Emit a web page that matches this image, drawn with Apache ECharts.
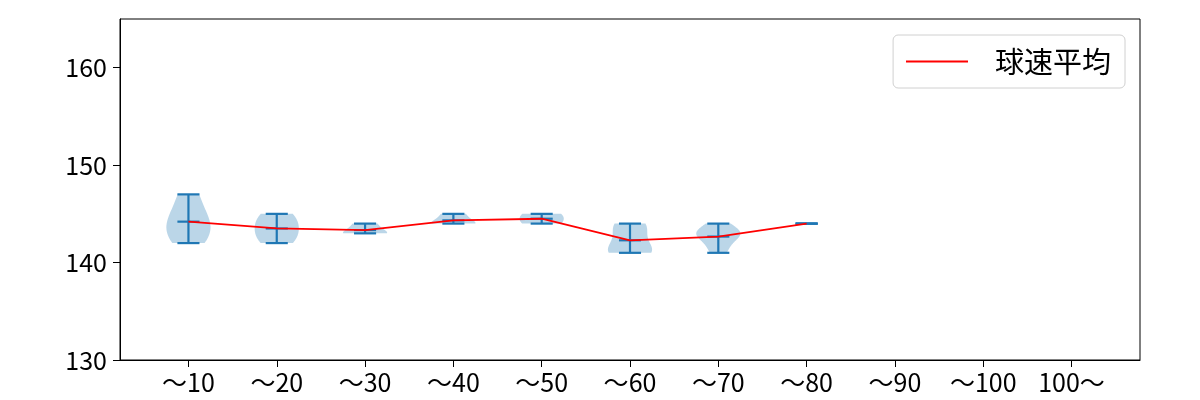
<!DOCTYPE html>
<html>
<head>
<meta charset="utf-8">
<script src="https://cdn.jsdelivr.net/npm/echarts@6/dist/echarts.min.js"></script>
<style>
html,body{margin:0;padding:0;background:#fff;}
#chart{width:1200px;height:400px;}
</style>
</head>
<body>
<div id="chart"></div>
<script>
// Categories (x axis tick labels)
const categories = ['〜10', '〜20', '〜30', '〜40', '〜50', '〜60', '〜70', '〜80', '〜90', '〜100', '100〜'];
// Pitch speed samples (km/h) per category, estimated from the violins
const speedSamples = [
  [142, 143, 144, 145, 147],
  [142, 143, 144, 145],
  [143, 143, 144],
  [144, 144, 145],
  [144, 145],
  [141, 141, 141, 142, 143, 144, 144],
  [141, 142, 143, 143, 144, 143],
  [144],
  [],
  [],
  []
];
// Y axis ticks
const yTicks = [130, 140, 150, 160];
const seriesName = '球速平均';

const FONT = '"Noto Sans CJK JP", "Noto Sans", sans-serif';
const BLUE = '#1f77b4';

function mean(a) { return a.reduce((s, v) => s + v, 0) / a.length; }
function kdeProfile(a) {
  const n = a.length;
  const m = mean(a);
  const variance = a.reduce((s, v) => s + (v - m) * (v - m), 0) / (n - 1);
  const sigma = Math.sqrt(variance) * Math.pow(n, -0.2);
  const lo = Math.min(...a), hi = Math.max(...a);
  const pts = [];
  for (let i = 0; i < 100; i++) {
    const y = lo + (hi - lo) * i / 99;
    let d = 0;
    for (const v of a) { const z = (y - v) / sigma; d += Math.exp(-0.5 * z * z); }
    pts.push([y, d]);
  }
  const mx = Math.max(...pts.map(p => p[1]));
  return pts.map(p => [p[0], 0.25 * p[1] / mx]);
}

const positions = categories.map((c, i) => i + 1);
const meanLine = [];
speedSamples.forEach((s, i) => { if (s.length) meanLine.push([positions[i], mean(s)]); });

const chart = echarts.init(document.getElementById('chart'), null, { renderer: 'canvas' });

const option = {
  animation: false,
  backgroundColor: '#fff',
  grid: { left: 120, right: 60, top: 19, bottom: 40, show: true, borderColor: '#000', borderWidth: 1, backgroundColor: 'transparent' },
  xAxis: {
    type: 'value', min: 0.225, max: 11.775,
    splitLine: { show: false },
    axisLine: { show: true, lineStyle: { color: '#000', width: 1 } },
    axisTick: { show: true, length: 7, lineStyle: { color: '#000' }, customValues: positions },
    axisLabel: { customValues: positions, formatter: v => categories[Math.round(v) - 1], color: '#000', fontSize: 25, fontFamily: FONT, margin: 10 }
  },
  yAxis: {
    type: 'value', min: 130, max: 165,
    splitLine: { show: false },
    axisLine: { show: true, lineStyle: { color: '#000', width: 1 } },
    axisTick: { show: true, length: 7, lineStyle: { color: '#000' }, customValues: yTicks },
    axisLabel: { customValues: yTicks, color: '#000', fontSize: 25, fontFamily: FONT, margin: 13 }
  },
  legend: {
    data: [seriesName],
    right: 75, top: 35,
    orient: 'vertical',
    backgroundColor: 'rgba(255,255,255,0.8)',
    borderColor: '#d0d0d0', borderWidth: 1, borderRadius: 5,
    padding: [12, 14, 12, 12],
    itemWidth: 62, itemHeight: 14,
    itemStyle: { opacity: 0 },
    lineStyle: { color: '#ff0000', width: 1.8, opacity: 1 },
    textStyle: { fontSize: 29, fontFamily: FONT, color: '#000', padding: [0, 0, 0, 22] }
  },
  series: [
    {
      type: 'custom',
      name: 'violin',
      data: positions.map(p => [p]),
      encode: { x: 0 },
      z: 2,
      renderItem: function (params, api) {
        const i = params.dataIndex;
        const s = speedSamples[i];
        if (!s.length) return null;
        const pos = positions[i];
        const children = [];
        const lo = Math.min(...s), hi = Math.max(...s), mu = mean(s);
        if (hi > lo) {
          const prof = kdeProfile(s);
          const pts = [];
          prof.forEach(p => pts.push(api.coord([pos - p[1], p[0]])));
          for (let k = prof.length - 1; k >= 0; k--) pts.push(api.coord([pos + prof[k][1], prof[k][0]]));
          children.push({ type: 'polygon', shape: { points: pts }, style: { fill: 'rgba(31,119,180,0.3)', stroke: 'none' } });
        }
        const seg = (x1, y1, x2, y2) => {
          const a = api.coord([x1, y1]), b = api.coord([x2, y2]);
          return { type: 'line', shape: { x1: a[0], y1: a[1], x2: b[0], y2: b[1] }, style: { stroke: BLUE, lineWidth: 2.2 } };
        };
        children.push(seg(pos, lo, pos, hi));
        children.push(seg(pos - 0.125, lo, pos + 0.125, lo));
        children.push(seg(pos - 0.125, hi, pos + 0.125, hi));
        children.push(seg(pos - 0.125, mu, pos + 0.125, mu));
        return { type: 'group', children: children };
      }
    },
    {
      type: 'line',
      name: seriesName,
      data: meanLine,
      symbol: 'none',
      z: 5,
      itemStyle: { color: '#ff0000' },
      lineStyle: { color: '#ff0000', width: 1.8 }
    }
  ]
};
chart.setOption(option);
</script>
</body>
</html>
